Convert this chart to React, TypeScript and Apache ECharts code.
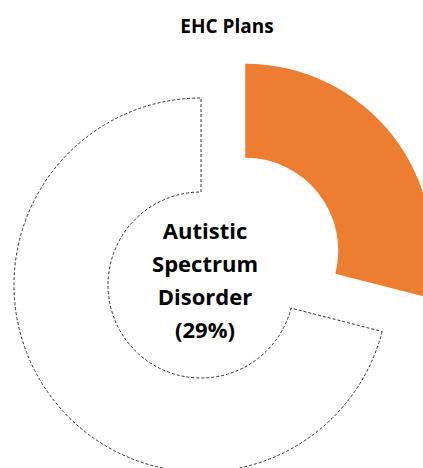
import React, { useEffect, useRef } from "react";
import * as echarts from "echarts";

const titleText = "EHC Plans";
const categories = ["Autistic Spectrum Disorder", "Other"];
const values = [29, 71];
const colors = ["#ED7D31", "#FFFFFF"];

export default function App() {
  const ref = useRef<HTMLDivElement>(null);
  useEffect(() => {
    if (!ref.current) return;
    const chart = echarts.init(ref.current, undefined, { renderer: "svg" });
    const centerLabel =
      categories[0].split(" ").join("\n") + "\n(" + values[0] + "%)";
    chart.setOption({
      animation: false,
      title: {
        text: titleText,
        left: 222,
        top: 11,
        textAlign: "center",
        textStyle: {
          fontFamily: "Open Sans",
          fontWeight: "bold",
          fontSize: 19,
          color: "#000",
        },
      },
      graphic: [
        {
          type: "text",
          x: 205,
          y: 279,
          style: {
            text: centerLabel,
            fontFamily: "Open Sans",
            fontWeight: "bold",
            fontSize: 22,
            lineHeight: 33,
            fill: "#000",
            align: "center",
            verticalAlign: "middle",
          },
        },
      ],
      series: [
        {
          type: "pie",
          center: [201, 285],
          radius: [93, 187],
          startAngle: 90,
          clockwise: true,
          selectedMode: "single",
          selectedOffset: 56,
          label: { show: false },
          labelLine: { show: false },
          emphasis: { disabled: true },
          data: categories.map((name, i) => ({
            name,
            value: values[i],
            selected: i === 0,
            itemStyle:
              i === 0
                ? { color: colors[i], borderWidth: 0 }
                : {
                    color: colors[i],
                    borderColor: "#000",
                    borderWidth: 0.8,
                    borderType: [3, 2],
                  },
          })),
        },
      ],
    });
    return () => chart.dispose();
  }, []);
  return <div ref={ref} style={{ width: 423, height: 468, position: "absolute", left: 0, top: 0 }} />;
}
